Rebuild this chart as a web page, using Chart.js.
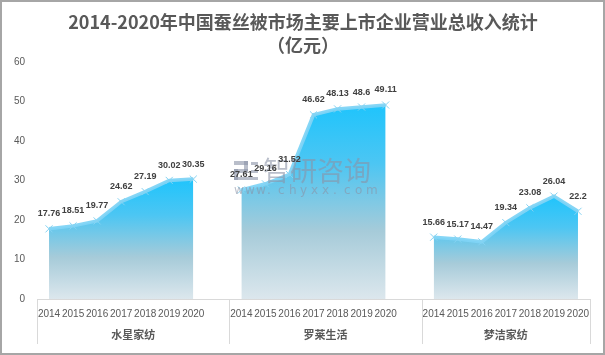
<!DOCTYPE html>
<html>
<head>
<meta charset="utf-8">
<script src="https://cdn.jsdelivr.net/npm/chart.js@4/dist/chart.umd.min.js"></script>
<style>
html,body{margin:0;padding:0;background:#fff;}
canvas{display:block;}
</style>
</head>
<body>
<canvas id="c" width="605" height="355"></canvas>
<script>
// ---- data ----
const years = ['2014','2015','2016','2017','2018','2019','2020'];
const companies = ['水星家纺','罗莱生活','梦洁家纺'];
const shuixing = [17.76,18.51,19.77,24.62,27.19,30.02,30.35];
const luolai = [27.61,29.16,31.52,46.62,48.13,48.6,49.11];
const mengjie = [15.66,15.17,14.47,19.34,23.08,26.04,22.2];
const seriesList = [shuixing, luolai, mengjie];
const yMin = 0, yMax = 60, yStep = 10;
const titleLines = ['2014-2020年中国蚕丝被市场主要上市企业营业总收入统计','（亿元）'];

// categories: 7 years per company with one blank slot between groups
const labels = [];
const groupStarts = [];
companies.forEach((c, gi) => {
  groupStarts.push(labels.length);
  years.forEach(y => labels.push(y));
  if (gi < companies.length - 1) labels.push('');
});
const groupEnds = groupStarts.map((s, i) => (i < groupStarts.length - 1 ? groupStarts[i+1] : labels.length));

const datasets = seriesList.map((vals, gi) => {
  const data = labels.map(() => null);
  vals.forEach((v, i) => { data[groupStarts[gi] + i] = v; });
  const maxV = Math.max(...vals);
  return {
    label: companies[gi],
    data,
    fill: 'origin',
    spanGaps: false,
    tension: 0,
    borderColor: 'rgba(128,212,246,0.95)',
    borderWidth: 3.5,
    pointStyle: 'crossRot',
    pointRadius: 5,
    pointBorderWidth: 1,
    pointBorderColor: '#86d3f2',
    pointBackgroundColor: '#86d3f2',
    backgroundColor: (ctx) => {
      const chart = ctx.chart;
      const area = chart.chartArea;
      if (!area) return '#5fc8f0';
      const ys = chart.scales.y;
      const top = ys.getPixelForValue(maxV);
      const g = chart.ctx.createLinearGradient(0, top, 0, area.bottom);
      g.addColorStop(0, '#1fc4fc');
      g.addColorStop(0.3, '#4cc6f3');
      g.addColorStop(0.65, '#a6cbd9');
      g.addColorStop(1, '#dce7ed');
      return g;
    }
  };
});

const decor = {
  id: 'decor',
  beforeDraw(chart) {
    const c = chart.ctx;
    c.save();
    c.fillStyle = '#fff';
    c.fillRect(0, 0, chart.width, chart.height);
    c.restore();
  },
  afterDatasetsDraw(chart) {
    const c = chart.ctx;
    // watermark
    c.save();
    c.globalAlpha = 0.6;
    c.fillStyle = '#8a93a6';
    c.font = '27px "Noto Sans CJK SC"';
    c.textBaseline = 'middle';
    c.textAlign = 'left';
    c.fillText('智研咨询', 263, 171);
    c.font = '12px "DejaVu Sans"';
    const w = 'www.chyxx.com';
    let x0 = 234;
    for (const ch of w) { c.fillText(ch, x0, 191); x0 += 11; }
    // simple logo blocks
    c.fillRect(234, 161, 14, 4);
    c.fillRect(244, 161, 4, 10);
    c.fillRect(234, 169, 14, 4);
    c.fillRect(234, 169, 4, 11);
    c.fillRect(234, 177, 24, 3);
    c.fillRect(251, 162, 7, 3);
    c.fillRect(251, 170, 7, 3);
    c.restore();

    // data labels
    c.save();
    c.font = 'bold 9px "Liberation Sans"';
    c.fillStyle = '#404040';
    c.textAlign = 'center';
    c.textBaseline = 'middle';
    chart.data.datasets.forEach((ds, di) => {
      const meta = chart.getDatasetMeta(di);
      ds.data.forEach((v, i) => {
        if (v === null) return;
        const p = meta.data[i];
        c.fillText(String(v), p.x, p.y - 15);
      });
    });
    c.restore();
  },
  afterDraw(chart) {
    const c = chart.ctx;
    const area = chart.chartArea;
    const catW = (area.right - area.left) / labels.length;
    // title
    c.save();
    c.fillStyle = '#595959';
    c.font = 'bold 18px "Noto Sans CJK SC"';
    c.textAlign = 'center';
    c.textBaseline = 'middle';
    c.fillText(titleLines[0], 303, 22);
    c.fillText(titleLines[1], 303, 45);
    c.restore();
    // group separators and names
    c.save();
    c.strokeStyle = '#d9d9d9';
    c.lineWidth = 1;
    const bounds = [0].concat(groupEnds);
    bounds.forEach(b => {
      const x = Math.round(area.left + b * catW) + 0.5;
      c.beginPath(); c.moveTo(x, area.bottom); c.lineTo(x, 344); c.stroke();
    });
    c.fillStyle = '#595959';
    c.font = 'bold 11px "Noto Sans CJK SC"';
    c.textAlign = 'center';
    c.textBaseline = 'middle';
    companies.forEach((name, gi) => {
      const xl = area.left + groupStarts[gi] * catW;
      const xr = area.left + groupEnds[gi] * catW;
      c.fillText(name, (xl + xr) / 2, 335);
    });
    c.restore();
    // outer border
    c.save();
    c.strokeStyle = '#a6a6a6';
    c.lineWidth = 2;
    c.strokeRect(1, 1, chart.width - 2, chart.height - 2);
    c.restore();
  }
};

new Chart(document.getElementById('c'), {
  type: 'line',
  data: { labels, datasets },
  options: {
    responsive: false,
    animation: false,
    devicePixelRatio: 1,
    layout: { padding: { top: 62, right: 15, bottom: 0, left: 0 } },
    plugins: { legend: { display: false }, tooltip: { enabled: false }, title: { display: false } },
    scales: {
      x: {
        offset: true,
        grid: { display: false, drawTicks: false },
        border: { display: true, color: '#d9d9d9', width: 1 },
        ticks: { autoSkip: false, maxRotation: 0, minRotation: 0, padding: 9, color: '#595959', font: { family: 'Liberation Sans', size: 10 } },
        afterFit(s) { s.height = 56; }
      },
      y: {
        min: yMin, max: yMax,
        grid: { display: false, drawTicks: false },
        border: { display: false },
        ticks: { stepSize: yStep, padding: 12, color: '#595959', font: { family: 'Liberation Sans', size: 10 } },
        afterFit(s) { s.width = 37; }
      }
    }
  },
  plugins: [decor]
});
</script>
</body>
</html>
